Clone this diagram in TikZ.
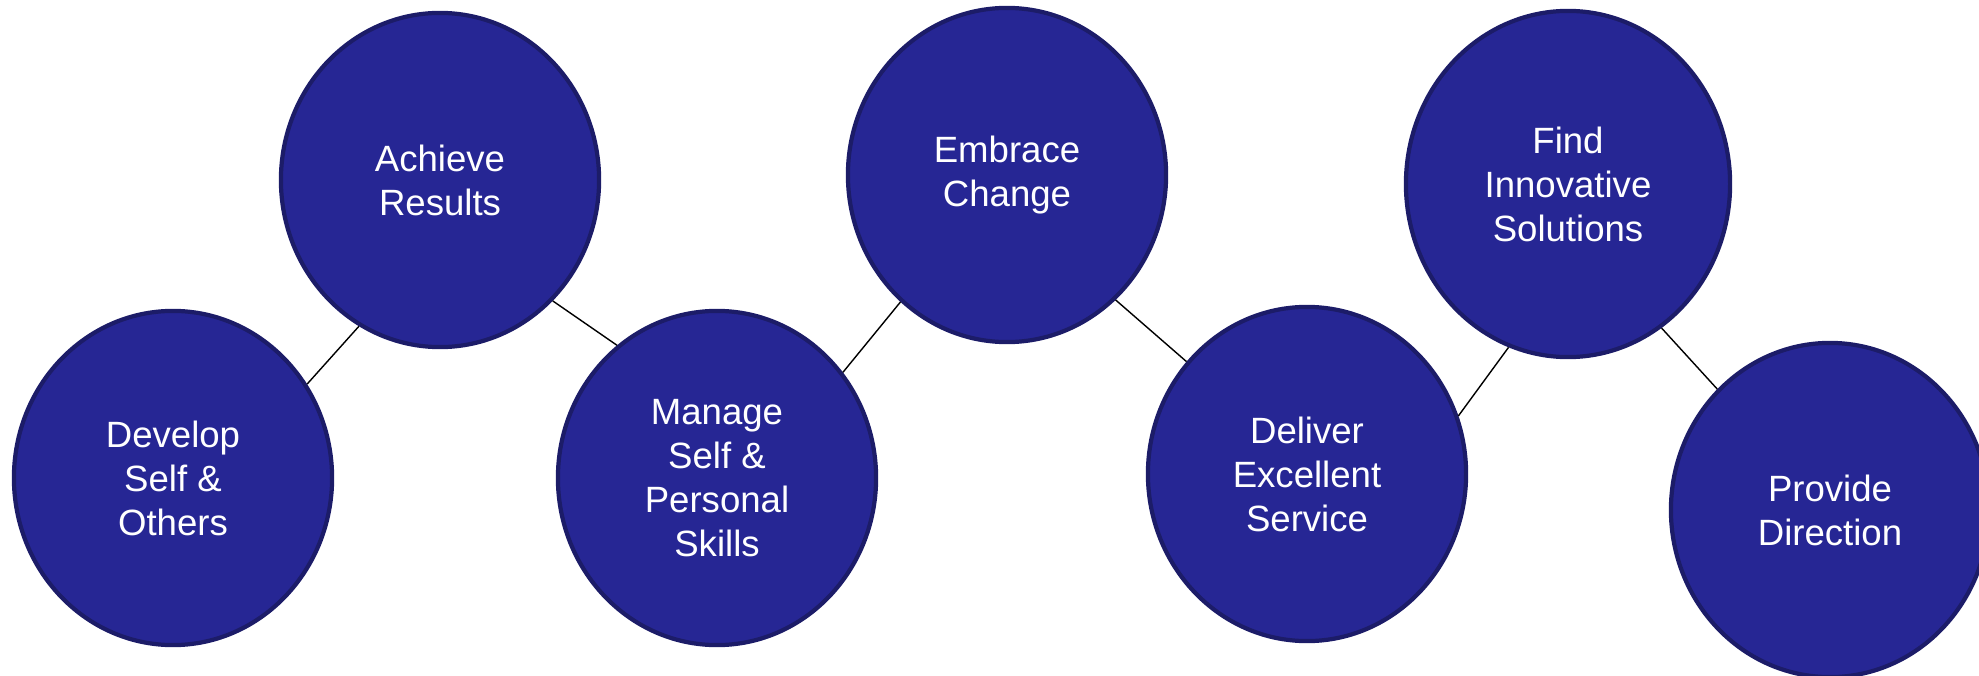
\documentclass[tikz,border=0pt]{standalone}
\usepackage{fontspec}
\setmainfont{Liberation Sans}
\usetikzlibrary{shapes.geometric}
\definecolor{bubblefill}{RGB}{38,38,148}
\definecolor{bubbleedge}{RGB}{28,28,104}
\begin{document}
\begin{tikzpicture}[x=0.01cm,y=-0.01cm,
  bubble/.style={ellipse, draw=bubbleedge, line width=1.2pt, fill=bubblefill,
    minimum width=3.18cm, minimum height=3.34cm, inner sep=0pt,
    text=white, align=center, font=\fontsize{10.4}{12.5}\selectfont},
  link/.style={draw=black, line width=0.4pt}]
\useasboundingbox (0,0) rectangle (1979,676);
\node[bubble] (develop) at (173,478) {Develop\\Self \&\\Others};
\node[bubble] (achieve) at (440,180) {Achieve\\Results};
\node[bubble] (manage) at (717,478) {Manage\\Self \&\\Personal\\Skills};
\node[bubble] (embrace) at (1007,175) {Embrace\\Change};
\node[bubble] (deliver) at (1307,474) {Deliver\\Excellent\\Service};
\node[bubble, minimum width=3.24cm, minimum height=3.46cm] (find) at (1568,184) {Find\\Innovative\\Solutions};
\node[bubble] (provide) at (1830,510) {Provide\\Direction};
\draw[link] (develop.35.5) -- (achieve.-119.8);
\draw[link] (achieve.-47.2) -- (manage.127.5);
\draw[link] (manage.40.8) -- (embrace.-130.9);
\draw[link] (embrace.-49.1) -- (deliver.137.1);
\draw[link] (deliver.21.8) -- (find.-110.3);
\draw[link] (find.-57.8) -- (provide.133);
\end{tikzpicture}
\end{document}
